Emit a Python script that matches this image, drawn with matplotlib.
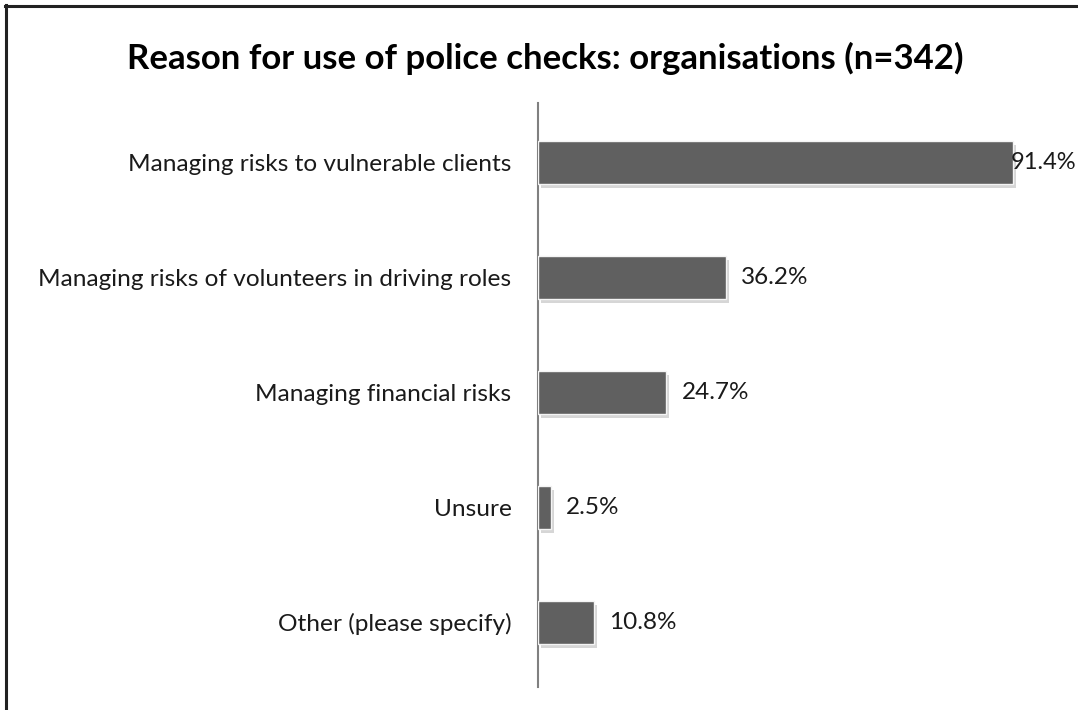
import matplotlib.pyplot as plt
import matplotlib.patheffects as pe
from matplotlib.lines import Line2D

# datos del gráfico
categorias = [
    "Managing risks to vulnerable clients",
    "Managing risks of volunteers in driving roles",
    "Managing financial risks",
    "Unsure",
    "Other (please specify)",
]
porcentajes = [91.4, 36.2, 24.7, 2.5, 10.8]
etiquetas = ["91.4%", "36.2%", "24.7%", "2.5%", "10.8%"]
titulo = "Reason for use of police checks: organisations (n=342)"

plt.rcParams["font.family"] = ["Lato", "DejaVu Sans"]

fig = plt.figure(figsize=(10.78, 7.10), dpi=100)
ax = fig.add_axes([0.499, 0.032, 0.482, 0.823])

posiciones = list(range(len(categorias)))
barras = ax.barh(posiciones, porcentajes, height=0.37, color="#606060",
                 edgecolor="#f4f4f4", linewidth=1.0, zorder=3)
for b in barras:
    b.set_path_effects([pe.SimplePatchShadow(offset=(2, -3), shadow_rgbFace="0.55", alpha=0.35),
                        pe.Normal()])

# etiquetas de valor (la primera pegada al final de la barra, casi sin sitio)
desplazamientos = [-1.5, 11, 11, 11, 11]
tamanos = [17, 17.5, 17.5, 17.5, 17.5]
for i, (v, t) in enumerate(zip(porcentajes, etiquetas)):
    ax.annotate(t, (v, i), xytext=(desplazamientos[i], 0), textcoords="offset points",
                va="center", ha="left", fontsize=tamanos[i], color="#1a1a1a", zorder=4)

ax.set_xlim(0, 100)
ax.set_ylim(4.565, -0.517)
ax.set_yticks(posiciones)
ax.set_yticklabels(categorias, fontsize=17.6, color="#1a1a1a")
ax.tick_params(axis="y", length=0, pad=19)
ax.set_xticks([])
for lado in ["top", "right", "bottom"]:
    ax.spines[lado].set_visible(False)
ax.spines["left"].set_color("#808080")
ax.spines["left"].set_linewidth(1.5)

fig.text(0.506, 0.918, titulo, ha="center", va="center", fontsize=25,
         fontweight="bold", color="#000000")

# borde del recuadro (solo izquierda y arriba)
fig.add_artist(Line2D([6 / 1078, 6 / 1078], [0, 1 - 5 / 710], transform=fig.transFigure,
                      color="#222222", linewidth=2.2))
fig.add_artist(Line2D([5 / 1078, 1], [1 - 6 / 710, 1 - 6 / 710], transform=fig.transFigure,
                      color="#222222", linewidth=2.2))

fig.savefig("out.png", dpi=100)
